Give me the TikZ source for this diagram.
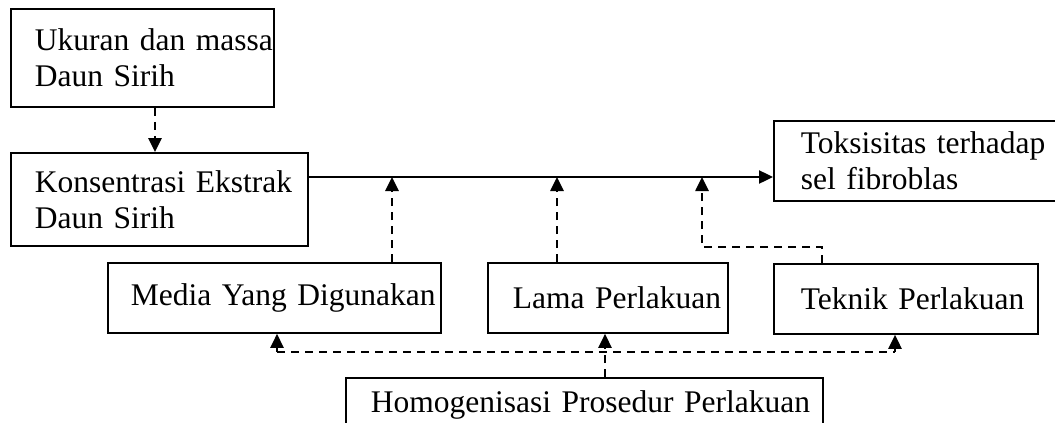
\documentclass[tikz,border=0pt]{standalone}
\usepackage{fontspec}
\setmainfont{Liberation Serif}
\usetikzlibrary{arrows.meta}
\begin{document}
\begin{tikzpicture}[x=1pt,y=-1pt,
  box/.style={draw, line width=1.8pt, inner sep=0pt, anchor=north west, align=left,
    font=\fontsize{31.5}{36}\selectfont},
  solidarrow/.style={line width=2.4pt, -{Triangle[length=14pt,width=13pt]}},
  dasharrow/.style={line width=2.6pt, dash pattern=on 8pt off 6pt, -{Triangle[length=14pt,width=13pt]}},
  dashline/.style={line width=2.6pt, dash pattern=on 8pt off 6pt}]
\useasboundingbox (0,0) rectangle (1055,423);
% boxes
\node[box, text width=263pt, minimum height=98pt] (ukuran) at (10,8)
  {\mbox{\hspace*{24pt}Ukuran dan massa}\\\mbox{\hspace*{24pt}Daun Sirih}};
\node[box, text width=297pt, minimum height=93pt] (konsen) at (10,152)
  {\mbox{\hspace*{24pt}Konsentrasi Ekstrak}\\\mbox{\hspace*{24pt}Daun Sirih}};
\node[box, text width=297pt, minimum height=80pt] (toks) at (773,120)
  {\mbox{\hspace*{27pt}Toksisitas terhadap}\\\mbox{\hspace*{27pt}sel fibroblas}};
\node[box, text width=333pt, minimum height=70pt] (media) at (107,262)
  {\mbox{\hspace*{23pt}Media Yang Digunakan}};
\node[box, text width=240pt, minimum height=70pt] (lama) at (487,262)
  {\mbox{\hspace*{25pt}Lama Perlakuan}};
\node[box, text width=264pt, minimum height=70pt] (teknik) at (773,263)
  {\mbox{\hspace*{27pt}Teknik Perlakuan}};
\node[box, text width=477pt, minimum height=54pt] (homog) at (345,377)
  {\mbox{\hspace*{25pt}Homogenisasi Prosedur Perlakuan}};
% helper coordinates
\coordinate (xa) at (155,0);
\coordinate (mainy) at (0,177);
\coordinate (xm) at (392,0);
\coordinate (xl) at (557,0);
\coordinate (xt) at (702,0);
\coordinate (tk) at (822,247);
\coordinate (bl) at (277,352);
\coordinate (br) at (895,352);
\coordinate (xh) at (605,0);
% connectors
\draw[dasharrow] (ukuran.south -| xa) -- (konsen.north -| xa);
\draw[solidarrow] (konsen.east |- mainy) -- (toks.west |- mainy);
\draw[dasharrow] (media.north -| xm) -- (mainy -| xm);
\draw[dasharrow] (lama.north -| xl) -- (mainy -| xl);
\draw[dasharrow] (teknik.north -| tk) -- (tk) -- (tk -| xt) -- (mainy -| xt);
\draw[dashline] (bl) -- (br);
\draw[dasharrow] (bl) -- (media.south -| bl);
\draw[dasharrow] (br) -- (teknik.south -| br);
\draw[dasharrow] (homog.north -| xh) -- (lama.south -| xh);
\end{tikzpicture}
\end{document}
